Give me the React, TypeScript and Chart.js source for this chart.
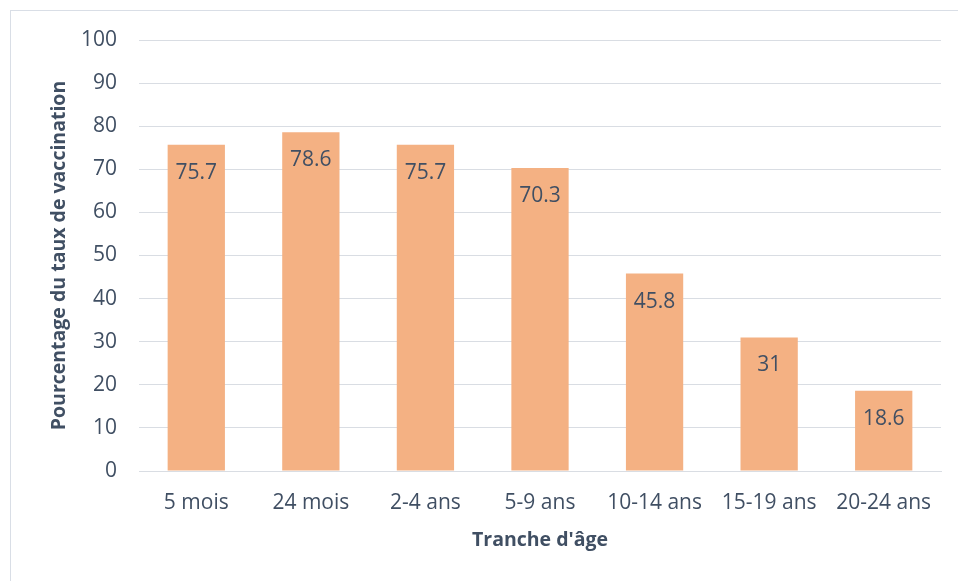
import React, { useEffect, useRef } from "react";
import { Chart, registerables } from "chart.js";

Chart.register(...registerables);

const categories = ["5 mois", "24 mois", "2-4 ans", "5-9 ans", "10-14 ans", "15-19 ans", "20-24 ans"];
const values = [75.7, 78.6, 75.7, 70.3, 45.8, 31, 18.6];
const yTitle = "Pourcentage du taux de vaccination";
const xTitle = "Tranche d'âge";

const TEXT = "#404F63";
const FONT = "'Open Sans', sans-serif";

const labelPlugin = {
  id: "barLabels",
  afterDatasetsDraw(chart: any) {
    const ctx = chart.ctx;
    const meta = chart.getDatasetMeta(0);
    ctx.save();
    ctx.fillStyle = TEXT;
    ctx.font = `21px ${FONT}`;
    ctx.textAlign = "center";
    ctx.textBaseline = "middle";
    meta.data.forEach((bar: any, i: number) => {
      ctx.fillText(String(values[i]), bar.x, bar.y + 28);
    });
    ctx.restore();
  },
};

export default function App() {
  const ref = useRef<HTMLCanvasElement>(null);
  useEffect(() => {
    document.body.style.margin = "0";
    const chart = new Chart(ref.current!, {
      type: "bar",
      data: {
        labels: categories,
        datasets: [
          {
            data: values,
            backgroundColor: "#F4B183",
            barPercentage: 0.5,
            categoryPercentage: 1,
          },
        ],
      },
      options: {
        animation: false,
        responsive: false,
        layout: { padding: { top: 40, right: 17, left: 0, bottom: 0 } },
        plugins: { legend: { display: false }, tooltip: { enabled: false } },
        scales: {
          x: {
            afterFit: (s: any) => { s.height = 110; },
            grid: { display: false, drawTicks: false },
            border: { display: true, color: "#D9DDE3", width: 1 },
            ticks: { color: TEXT, font: { family: FONT, size: 21 }, padding: 19 },
            title: {
              display: true,
              text: xTitle,
              color: TEXT,
              font: { family: FONT, size: 19.5, weight: "bold" },
              padding: { top: 0, bottom: 29 },
            },
          },
          y: {
            min: 0,
            max: 100,
            afterFit: (s: any) => { s.width = 139; },
            grid: { color: "#D9DDE3", lineWidth: 1, drawTicks: false },
            border: { display: false },
            ticks: { stepSize: 10, color: TEXT, font: { family: FONT, size: 21 }, padding: 22 },
            title: {
              display: true,
              text: yTitle,
              color: TEXT,
              font: { family: FONT, size: 19.5, weight: "bold" },
              padding: { top: 48, bottom: 0 },
            },
          },
        },
      },
      plugins: [labelPlugin],
    });
    return () => chart.destroy();
  }, []);
  return (
    <div style={{ position: "relative", width: 958, height: 581, overflow: "hidden", background: "#fff" }}>
      <div
        style={{
          position: "absolute",
          left: 10,
          top: 10,
          width: 1000,
          height: 700,
          border: "1px solid #D9DEE6",
          boxSizing: "border-box",
        }}
      />
      <canvas ref={ref} width={958} height={581} style={{ position: "absolute", left: 0, top: 0 }} />
    </div>
  );
}
